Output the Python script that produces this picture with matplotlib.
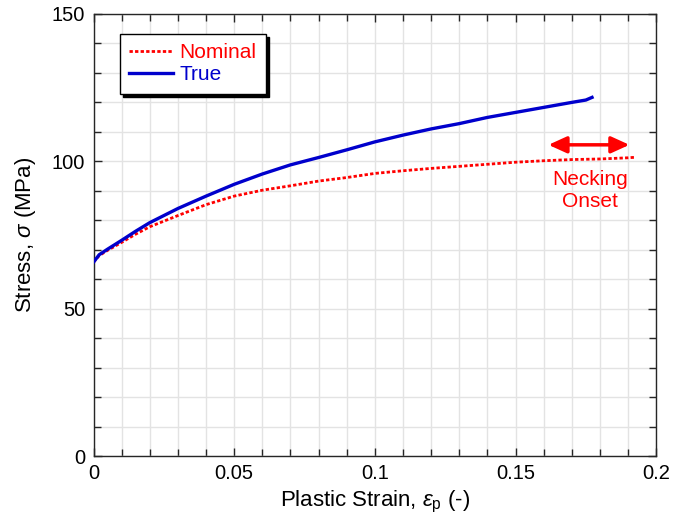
import matplotlib
matplotlib.use("Agg")
import matplotlib.pyplot as plt
from matplotlib.ticker import MultipleLocator
from matplotlib.patches import FancyArrowPatch

plt.rcParams['font.family'] = ['Liberation Sans', 'DejaVu Sans']
plt.rcParams['mathtext.fontset'] = 'custom'
plt.rcParams['mathtext.rm'] = 'Liberation Sans'
plt.rcParams['mathtext.it'] = 'Liberation Sans:italic'
plt.rcParams['mathtext.bf'] = 'Liberation Sans:bold'

true_strain = [0.0, 0.002, 0.005, 0.01, 0.015, 0.02, 0.03, 0.04, 0.05, 0.06,
               0.07, 0.08, 0.09, 0.10, 0.11, 0.12, 0.13, 0.14, 0.15, 0.16, 0.17,
               0.175, 0.1772]
true_stress = [65.8, 68.3, 70.2, 73.2, 76.3, 79.2, 84.0, 88.2, 92.2, 95.7,
               98.8, 101.3, 103.9, 106.6, 108.9, 111.0, 112.8, 114.9, 116.6, 118.3, 120.0,
               120.8, 121.7]

nom_strain = [0.0, 0.002, 0.005, 0.01, 0.015, 0.02, 0.03, 0.04, 0.05, 0.06, 0.07,
              0.08, 0.09, 0.10, 0.11, 0.12, 0.13, 0.14, 0.15, 0.16, 0.17, 0.18,
              0.19, 0.1928]
nom_stress = [65.8, 68.0, 69.8, 72.5, 75.3, 77.8, 81.6, 85.3, 88.2, 90.2, 91.7,
              93.3, 94.5, 95.9, 96.8, 97.6, 98.3, 99.0, 99.7, 100.2, 100.6, 100.8,
              101.2, 101.4]

arrow_x = [0.1617, 0.1905]
arrow_y = 105.6
note_text = "Necking\nOnset"
note_xy = (0.1765, 90.0)

fig = plt.figure(figsize=(6.73, 5.30), dpi=100)
ax = fig.add_axes([0.139, 0.1396, 0.836, 0.834])

ax.plot(nom_strain, nom_stress, color='#ff0000', lw=2.0, linestyle=(0, (1.2, 0.8)),
        label='Nominal', zorder=3)
ax.plot(true_strain, true_stress, color='#0000cc', lw=2.4, label='True', zorder=4)

ax.set_xlim(0, 0.2)
ax.set_ylim(0, 150)
ax.xaxis.set_major_locator(MultipleLocator(0.05))
ax.xaxis.set_minor_locator(MultipleLocator(0.01))
ax.yaxis.set_major_locator(MultipleLocator(50))
ax.yaxis.set_minor_locator(MultipleLocator(10))
ax.set_xticks([0, 0.05, 0.1, 0.15, 0.2])
ax.set_xticklabels(['0', '0.05', '0.1', '0.15', '0.2'])
ax.grid(True, which='both', color='#e3e3e3', lw=1.0, zorder=0)
ax.set_axisbelow(True)
ax.tick_params(which='both', direction='in', top=True, right=True,
               labelsize=14.5, color='#262626', width=1.0)
ax.tick_params(which='major', length=6, pad=6)
ax.tick_params(which='minor', length=5)
for s in ax.spines.values():
    s.set_color('#262626')
    s.set_linewidth(1.0)

ax.set_xlabel(r'Plastic Strain, $\varepsilon_{\rm p}$ (-)', fontsize=16, labelpad=4)
ax.set_ylabel(r'Stress, $\sigma$ (MPa)', fontsize=16, labelpad=10)

arr = FancyArrowPatch((arrow_x[0], arrow_y), (arrow_x[1], arrow_y),
                      arrowstyle='<|-|>,head_length=1.1,head_width=0.5',
                      color='#ff0000', lw=2.5, mutation_scale=10,
                      shrinkA=0, shrinkB=0, zorder=5)
ax.add_patch(arr)
ax.text(note_xy[0], note_xy[1], note_text, color='#ff0000', fontsize=15,
        ha='center', va='center', linespacing=1.2)

leg = ax.legend(loc='upper left', bbox_to_anchor=(0.047, 0.955), fontsize=15,
                frameon=True, fancybox=False,
                shadow={'color': 'black', 'alpha': 1.0},
                handlelength=2.1, handletextpad=0.3, borderpad=0.45,
                labelspacing=0.15, borderaxespad=0.0)
leg.get_frame().set_edgecolor('black')
leg.get_frame().set_linewidth(1.0)
for t, c in zip(leg.get_texts(), ['#ff0000', '#0000cc']):
    t.set_color(c)

fig.savefig('out.png', dpi=100)
